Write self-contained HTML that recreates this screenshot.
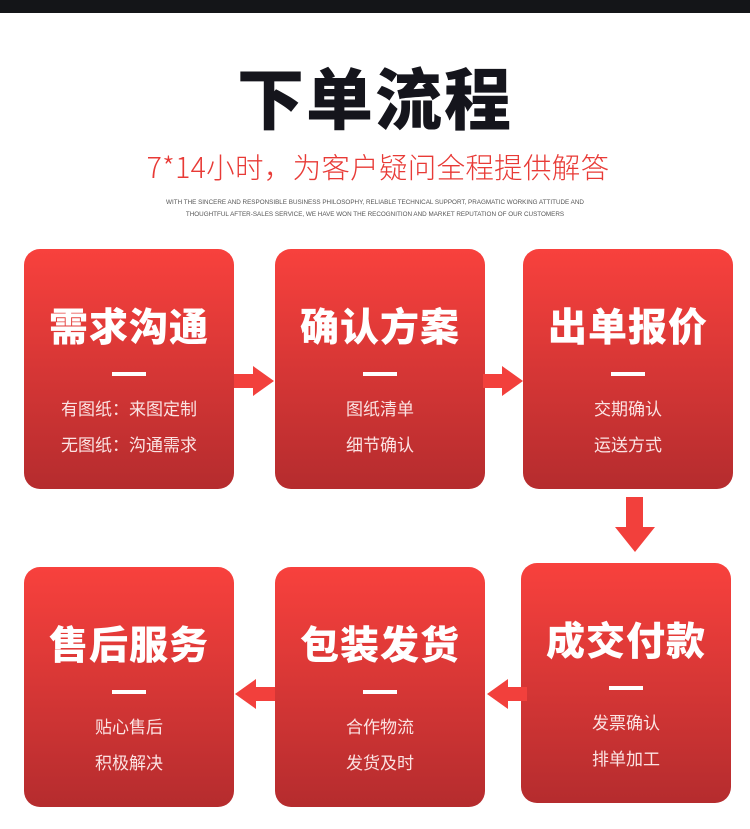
<!DOCTYPE html>
<html><head><meta charset="utf-8"><style>
*{margin:0;padding:0;box-sizing:border-box}
body{width:750px;height:829px;background:#fff;position:relative;overflow:hidden;font-family:"Liberation Sans","Noto Sans CJK SC",sans-serif}
.top{position:absolute;left:0;top:0;width:750px;height:13px;background:#141518}
.t{position:absolute;left:0;width:750px;text-align:center}
.box{position:absolute;width:210px;height:240px;border-radius:16px;background:linear-gradient(#f8413d,#b52c2e);color:#fff;text-align:center}
.box h2{position:absolute;top:56px;width:100%;font-size:39px;font-weight:900;line-height:48px;letter-spacing:1px}
.box i{position:absolute;left:88px;top:123px;width:34px;height:4px;background:#fff}
.box p{position:absolute;width:100%;font-size:17px;line-height:22px;color:#fbe3e3}
</style></head><body>
<div class="top"></div>
<div class="t" style="top:62px;font-size:67px;font-weight:900;color:#15151c;line-height:80px;letter-spacing:2px">下单流程</div>
<div class="t" style="top:149px;left:3px;font-family:'Noto Sans CJK SC',sans-serif;font-size:28.5px;font-weight:300;color:#e83a36;line-height:36px;letter-spacing:0.3px">7*14小时，为客户疑问全程提供解答</div>
<div class="t" style="top:197px;font-size:6.3px;color:#555;line-height:12px">WITH THE SINCERE AND RESPONSIBLE BUSINESS PHILOSOPHY, RELIABLE TECHNICAL SUPPORT, PRAGMATIC WORKING ATTITUDE AND<br>THOUGHTFUL AFTER-SALES SERVICE, WE HAVE WON THE RECOGNITION AND MARKET REPUTATION OF OUR CUSTOMERS</div>

<div class="box" style="left:24px;top:249px"><h2>需求沟通</h2><i></i><p style="top:150px">有图纸：来图定制</p><p style="top:186px">无图纸：沟通需求</p></div>
<div class="box" style="left:275px;top:249px"><h2>确认方案</h2><i></i><p style="top:150px">图纸清单</p><p style="top:186px">细节确认</p></div>
<div class="box" style="left:523px;top:249px"><h2>出单报价</h2><i></i><p style="top:150px">交期确认</p><p style="top:186px">运送方式</p></div>
<div class="box" style="left:24px;top:567px"><h2>售后服务</h2><i></i><p style="top:150px">贴心售后</p><p style="top:186px">积极解决</p></div>
<div class="box" style="left:275px;top:567px"><h2>包装发货</h2><i></i><p style="top:150px">合作物流</p><p style="top:186px">发货及时</p></div>
<div class="box" style="left:521px;top:563px"><h2>成交付款</h2><i></i><p style="top:150px">发票确认</p><p style="top:186px">排单加工</p></div>

<svg width="750" height="829" style="position:absolute;left:0;top:0" fill="#f2403c">
<polygon points="234,374 253,374 253,366 274,381 253,396 253,388 234,388"/>
<polygon points="483,374 502,374 502,366 523,381 502,396 502,388 483,388"/>
<polygon points="626,497 643,497 643,527 655,527 635,552 615,527 626,527"/>
<polygon points="527,687 508,687 508,679 487,694 508,709 508,701 527,701"/>
<polygon points="275,687 256,687 256,679 235,694 256,709 256,701 275,701"/>
</svg>
</body></html>
